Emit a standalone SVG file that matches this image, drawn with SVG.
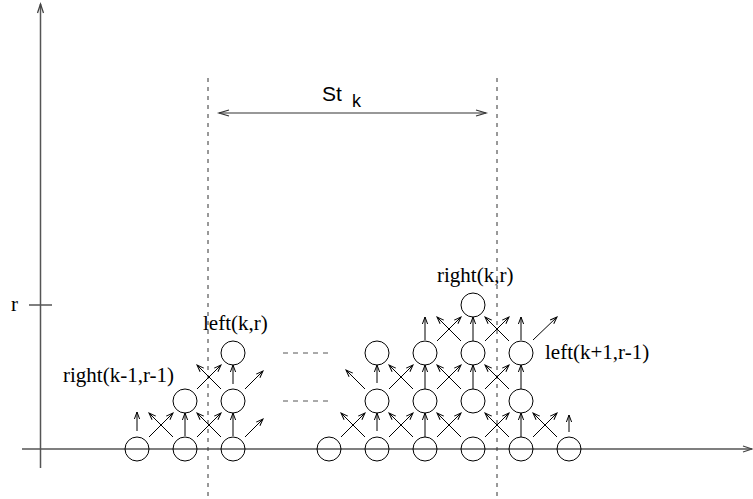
<svg xmlns="http://www.w3.org/2000/svg" width="753" height="499" viewBox="0 0 753 499">
<style>
.node{fill:none;stroke:#000;stroke-width:1}
.arr{fill:none;stroke:#000;stroke-width:1;marker-end:url(#ah)}
.axis{fill:none;stroke:#555;stroke-width:1.5}
.dash{fill:none;stroke:#333;stroke-width:1;stroke-dasharray:4 5}
.gdash{fill:none;stroke:#555;stroke-width:1;stroke-dasharray:5 5}
.lbl{font-family:"Liberation Serif","Times New Roman",serif;font-size:21px;fill:#000}
.sans{font-family:"Liberation Sans",Arial,sans-serif;fill:#000}
</style>
<defs>
<marker id="ah" markerUnits="userSpaceOnUse" orient="auto" refX="0" refY="0" markerWidth="10" markerHeight="10" overflow="visible"><path d="M-7,-2.6 L0,0 L-7,2.6" fill="none" stroke="#000" stroke-width="1"/></marker>
<marker id="ah2" markerUnits="userSpaceOnUse" orient="auto-start-reverse" refX="0" refY="0" markerWidth="12" markerHeight="12" overflow="visible"><path d="M-10,-3 L0,0 L-10,3" fill="none" stroke="#333" stroke-width="1.2"/></marker>
<marker id="axh" markerUnits="userSpaceOnUse" orient="auto" refX="0" refY="0" markerWidth="12" markerHeight="12" overflow="visible"><path d="M-9,-3 L0,0 L-9,3" fill="none" stroke="#444" stroke-width="1.3"/></marker>
</defs>

<g id="axes">
<line class="axis" x1="40.5" y1="468" x2="40.5" y2="4" marker-end="url(#axh)"/>
<line class="axis" x1="22" y1="449" x2="752" y2="449" marker-end="url(#axh)"/>
<line class="axis" x1="29" y1="305" x2="52" y2="305"/>
<text class="lbl" x="11" y="311">r</text>
</g>

<g id="guides">
<line class="dash" x1="208" y1="78" x2="208" y2="497"/>
<line class="dash" x1="497" y1="78" x2="497" y2="497"/>
<line x1="219" y1="113" x2="486" y2="113" stroke="#333" stroke-width="1.2" marker-start="url(#ah2)" marker-end="url(#ah2)"/>
<text class="sans" x="322" y="101" font-size="21">St</text>
<text class="sans" x="352" y="107" font-size="18">k</text>
<line class="gdash" x1="283" y1="353" x2="328" y2="353"/>
<line class="gdash" x1="283" y1="401" x2="328" y2="401"/>
</g>

<g id="connectors">
<path class="arr" d="M137,431 L137,412"/>
<path class="arr" d="M149,437 L173,413"/>
<path class="arr" d="M173,437 L149,413"/>
<path class="arr" d="M185,436 L185,413"/>
<path class="arr" d="M197,437 L221,413"/>
<path class="arr" d="M221,437 L197,413"/>
<path class="arr" d="M233,436 L233,413"/>
<path class="arr" d="M245,437 L263,419"/>
<path class="arr" d="M197,389 L221,365"/>
<path class="arr" d="M221,389 L197,365"/>
<path class="arr" d="M233,384 L233,365"/>
<path class="arr" d="M245,389 L263,371"/>

<path class="arr" d="M341,437 L365,413"/>
<path class="arr" d="M365,437 L341,413"/>
<path class="arr" d="M377,431 L377,413"/>
<path class="arr" d="M389,437 L413,413"/>
<path class="arr" d="M413,437 L389,413"/>
<path class="arr" d="M425,437 L425,413"/>
<path class="arr" d="M437,437 L461,413"/>
<path class="arr" d="M461,437 L437,413"/>
<path class="arr" d="M485,437 L509,413"/>
<path class="arr" d="M509,437 L485,413"/>
<path class="arr" d="M521,437 L521,413"/>
<path class="arr" d="M533,437 L557,413"/>
<path class="arr" d="M557,437 L533,413"/>
<path class="arr" d="M569,432 L569,415"/>

<path class="arr" d="M365,389 L346,370"/>
<path class="arr" d="M377,383 L377,365"/>
<path class="arr" d="M389,389 L413,365"/>
<path class="arr" d="M413,389 L389,365"/>
<path class="arr" d="M425,389 L425,365"/>
<path class="arr" d="M437,389 L461,365"/>
<path class="arr" d="M461,389 L437,365"/>
<path class="arr" d="M473,389 L473,365"/>
<path class="arr" d="M485,389 L509,365"/>
<path class="arr" d="M509,389 L485,365"/>
<path class="arr" d="M521,389 L521,365"/>

<path class="arr" d="M425,340 L425,317"/>
<path class="arr" d="M437,341 L461,317"/>
<path class="arr" d="M461,341 L437,317"/>
<path class="arr" d="M473,341 L473,317"/>
<path class="arr" d="M485,341 L509,317"/>
<path class="arr" d="M509,341 L485,317"/>
<path class="arr" d="M521,340 L521,317"/>
<path class="arr" d="M533,340 L557,317"/>
</g>

<g id="n-l0a"><circle class="node" cx="137" cy="449" r="12"/></g>
<g id="n-l0b"><circle class="node" cx="185" cy="449" r="12"/></g>
<g id="n-l0c"><circle class="node" cx="233" cy="449" r="12"/></g>
<g id="n-l1b"><circle class="node" cx="185" cy="401" r="12"/></g>
<g id="n-l1c"><circle class="node" cx="233" cy="401" r="12"/></g>
<g id="n-l2c"><circle class="node" cx="233" cy="353" r="12"/></g>

<g id="n-r0a"><circle class="node" cx="329" cy="449" r="12"/></g>
<g id="n-r0b"><circle class="node" cx="377" cy="449" r="12"/></g>
<g id="n-r0c"><circle class="node" cx="425" cy="449" r="12"/></g>
<g id="n-r0d"><circle class="node" cx="473" cy="449" r="12"/></g>
<g id="n-r0e"><circle class="node" cx="521" cy="449" r="12"/></g>
<g id="n-r0f"><circle class="node" cx="569" cy="449" r="12"/></g>
<g id="n-r1b"><circle class="node" cx="377" cy="401" r="12"/></g>
<g id="n-r1c"><circle class="node" cx="425" cy="401" r="12"/></g>
<g id="n-r1d"><circle class="node" cx="473" cy="401" r="12"/></g>
<g id="n-r1e"><circle class="node" cx="521" cy="401" r="12"/></g>
<g id="n-r2b"><circle class="node" cx="377" cy="353" r="12"/></g>
<g id="n-r2c"><circle class="node" cx="425" cy="353" r="12"/></g>
<g id="n-r2d"><circle class="node" cx="473" cy="353" r="12"/></g>
<g id="n-r2e"><circle class="node" cx="521" cy="353" r="12"/></g>
<g id="n-r3d"><circle class="node" cx="473" cy="305" r="12"/></g>

<g id="labels">
<text class="lbl" x="203" y="330">left(k,r)</text>
<text class="lbl" x="437" y="282">right(k,r)</text>
<text class="lbl" x="63" y="382">right(k-1,r-1)</text>
<text class="lbl" x="545" y="359">left(k+1,r-1)</text>
</g>
</svg>
